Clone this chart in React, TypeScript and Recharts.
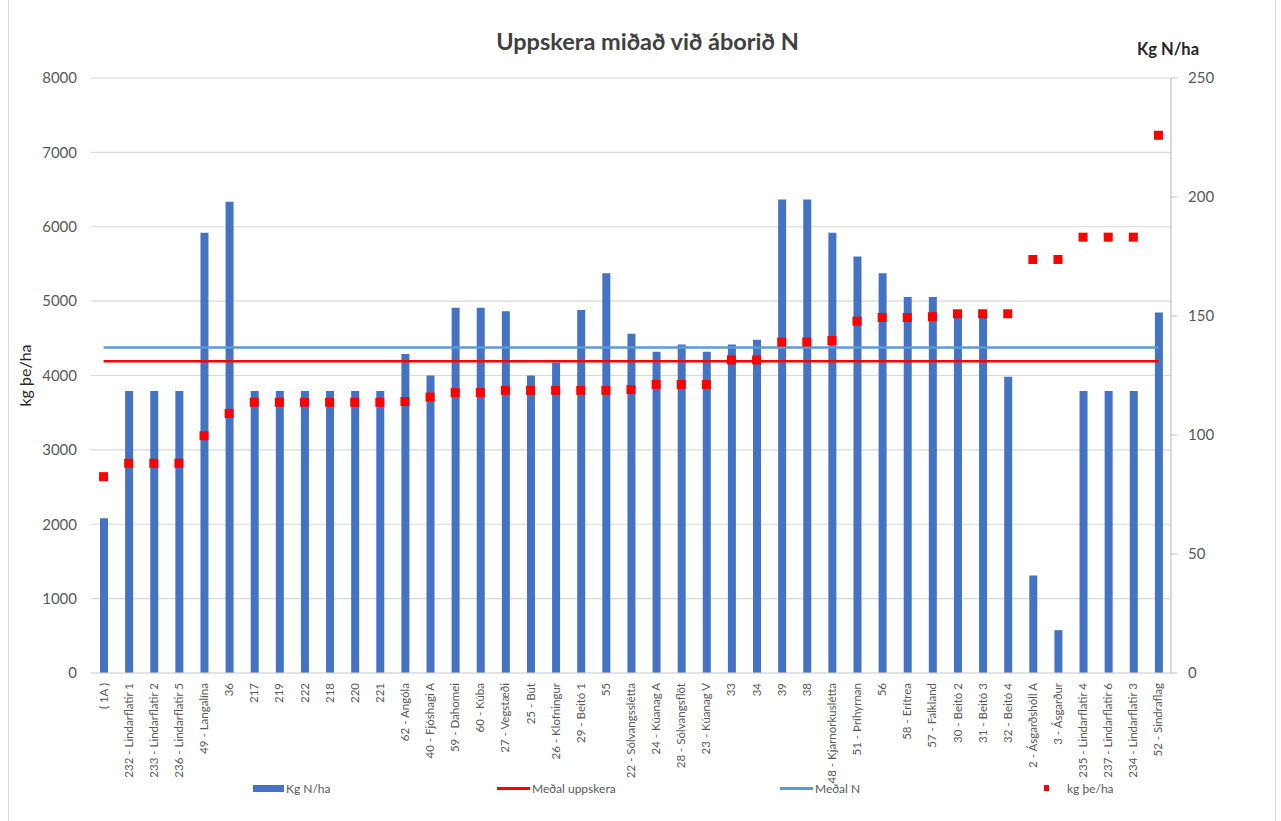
import React from 'react';
import { ComposedChart, Bar, Line, XAxis, YAxis, CartesianGrid, Legend } from 'recharts';

const categories = [
  '( 1A )', '232 - Lindarflatir 1', '233 - Lindarflatir 2', '236 - Lindarflatir 5', '49 - Langalína', '36',
  '217', '219', '222', '218', '220', '221', '62 - Angóla', '40 - Fjóshagi A', '59 - Dahomei', '60 - Kúba',
  '27 - Vegstæði', '25 - Bút', '26 - Klofningur', '29 - Beitó 1', '55', '22 - Sólvangsslétta', '24 - Kúanag A',
  '28 - Sólvangsflöt', '23 - Kúanag V', '33', '34', '39', '38', '48 - Kjarnorkuslétta', '51 - Þríhyrnan', '56',
  '58 - Erítrea', '57 - Falkland', '30 - Beitó 2', '31 - Beitó 3', '32 - Beitó 4', '2 - Ásgarðshóll A',
  '3 - Ásgarður', '235 - Lindarflatir 4', '237 - Lindarflatir 6', '234 - Lindarflatir 3', '52 - Sindraflag',
];

const nKg = [
  65, 118.5, 118.5, 118.5, 185, 198, 118.5, 118.5, 118.5, 118.5, 118.5, 118.5, 134, 125, 153.5, 153.5,
  152, 125, 130.5, 152.5, 168, 142.5, 135, 138, 135, 138, 140, 199, 199, 185, 175, 168,
  158, 158, 150, 150, 124.5, 41, 18, 118.5, 118.5, 118.5, 151.5,
];

const yieldKg = [
  2640, 2820, 2820, 2820, 3190, 3490, 3640, 3640, 3640, 3640, 3640, 3640, 3650, 3710, 3770, 3770,
  3800, 3800, 3800, 3800, 3800, 3810, 3880, 3880, 3880, 4210, 4210, 4450, 4450, 4470, 4730, 4780,
  4780, 4790, 4830, 4830, 4830, 5560, 5560, 5860, 5860, 5860, 7230,
];

const MEAN_YIELD = 4190;
const MEAN_N = 136.8;

const leftTicks = [0, 1000, 2000, 3000, 4000, 5000, 6000, 7000, 8000];
const rightTicks = [0, 50, 100, 150, 200, 250];

const data = categories.map((c, i) => ({
  name: c,
  n: nKg[i],
  y: yieldKg[i],
  meanY: MEAN_YIELD,
  meanN: MEAN_N,
}));

const FONT = 'Lato, "Open Sans", sans-serif';

const XTick = (props: any) => {
  const { x, y, payload } = props;
  return (
    <text
      transform={`translate(${x},${y + 2}) rotate(-90)`}
      textAnchor="end"
      dy="0.35em"
      fontSize={11.5}
      fontFamily={FONT}
      fill="#595959"
    >
      {payload.value}
    </text>
  );
};

const Square = (props: any) => {
  const { cx, cy } = props;
  if (cx == null || cy == null) return null;
  return <rect x={cx - 4.5} y={cy - 4.5} width={9} height={9} fill="#FF0000" />;
};

const LegendContent = () => {
  const item = (left: number, sw: React.ReactNode, label: string) => (
    <div style={{ position: 'absolute', left, top: 8, display: 'flex', alignItems: 'center', height: 14 }}>
      {sw}
      <span style={{ fontSize: 12, color: '#595959', fontFamily: FONT, marginLeft: 2 }}>{label}</span>
    </div>
  );
  return (
    <div style={{ position: 'relative', width: 1281, height: 48 }}>
      {item(253, <div style={{ width: 31, height: 7, background: '#4472C4' }} />, 'Kg N/ha')}
      {item(497, <div style={{ width: 33, height: 3, background: '#FF0000' }} />, 'Meðal uppskera')}
      {item(780, <div style={{ width: 33, height: 3, background: '#5B9BD5' }} />, 'Meðal N')}
      {item(1044, <div style={{ width: 5, height: 6, background: '#FF0000', marginRight: 16 }} />, 'kg þe/ha')}
    </div>
  );
};

export default function App() {
  return (
    <div
      style={{
        position: 'absolute',
        left: 0,
        top: 0,
        width: 1281,
        height: 821,
        background: '#fff',
        fontFamily: FONT,
        overflow: 'hidden',
      }}
    >
      <div style={{ position: 'absolute', left: 8, top: 0, width: 1, height: 821, background: '#D9D9D9' }} />
      <div style={{ position: 'absolute', left: 1275, top: 0, width: 1, height: 821, background: '#D9D9D9' }} />
      <div
        style={{
          position: 'absolute',
          left: 7,
          width: 1281,
          top: 27,
          textAlign: 'center',
          fontSize: 23.5,
          fontWeight: 700,
          color: '#404040',
          fontFamily: FONT,
        }}
      >
        Uppskera miðað við áborið N
      </div>
      <div
        style={{
          position: 'absolute',
          left: 1118,
          width: 100,
          top: 39,
          textAlign: 'center',
          fontSize: 16.5,
          fontWeight: 700,
          color: '#262626',
          fontFamily: FONT,
        }}
      >
        Kg N/ha
      </div>
      <div style={{ position: 'absolute', left: 0, top: 0 }}>
        <ComposedChart
          width={1281}
          height={821}
          data={data}
          margin={{ top: 78, right: 0, bottom: 0, left: 0 }}
          barCategoryGap={0}
        >
          <CartesianGrid yAxisId="left" vertical={false} stroke="#D9D9D9" strokeWidth={1.2} />
          <XAxis
            dataKey="name"
            interval={0}
            height={100}
            tick={<XTick />}
            tickLine={false}
            axisLine={{ stroke: '#D9D9D9', strokeWidth: 1.2 }}
          />
          <YAxis
            yAxisId="left"
            orientation="left"
            width={91}
            domain={[0, 8000]}
            ticks={leftTicks}
            axisLine={false}
            tickLine={false}
            tickSize={6}
            tickMargin={8}
            tick={{ fontSize: 15, fill: '#595959', fontFamily: FONT }}
            label={(p: any) => {
              const vb = p.viewBox;
              return (
                <text
                  transform={`translate(${vb.x + 31},${vb.y + vb.height / 2}) rotate(-90)`}
                  textAnchor="middle"
                  fontSize={16}
                  fill="#262626"
                  fontFamily={FONT}
                >
                  kg þe/ha
                </text>
              );
            }}
          />
          <YAxis
            yAxisId="right"
            orientation="right"
            width={110}
            domain={[0, 250]}
            ticks={rightTicks}
            axisLine={{ stroke: '#BFBFBF', strokeWidth: 1.2 }}
            tickLine={{ stroke: '#BFBFBF' }}
            tickSize={6}
            tickMargin={11}
            tick={{ fontSize: 15, fill: '#595959', fontFamily: FONT, textAnchor: 'start' }}
          />
          <Legend verticalAlign="bottom" content={<LegendContent />} />
          <Bar yAxisId="right" dataKey="n" fill="#4472C4" barSize={8} isAnimationActive={false} />
          <Line yAxisId="right" dataKey="meanN" stroke="#5B9BD5" strokeWidth={2.5} dot={false} isAnimationActive={false} />
          <Line yAxisId="left" dataKey="meanY" stroke="#FF0000" strokeWidth={2.5} dot={false} isAnimationActive={false} />
          <Line
            yAxisId="left"
            dataKey="y"
            stroke="none"
            strokeWidth={0}
            dot={<Square />}
            activeDot={false}
            isAnimationActive={false}
          />
        </ComposedChart>
      </div>
    </div>
  );
}
